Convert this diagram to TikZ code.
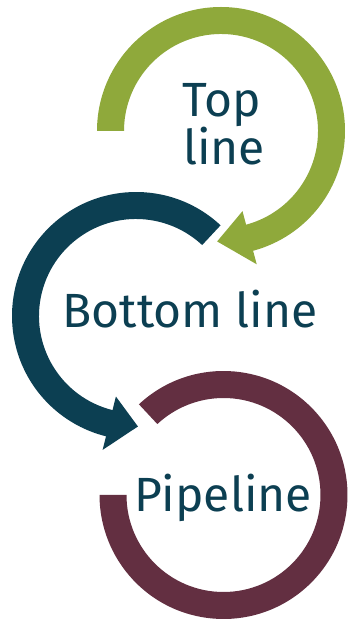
\documentclass[tikz,border=0pt]{standalone}
\usepackage{fontspec}
\setmainfont{Fira Sans}
\usetikzlibrary{arrows}
\definecolor{topgreen}{RGB}{143,169,59}
\definecolor{botblue}{RGB}{12,63,82}
\definecolor{pipemaroon}{RGB}{99,47,65}

\begin{document}
\begin{tikzpicture}[x=1pt,y=1pt,
  lbl/.style={text=botblue,inner sep=0pt,anchor=base,font=\fontsize{48}{48}\selectfont}]
\useasboundingbox[fill=white] (0,0) rectangle (349,619);
% top line arrow
\begin{scope}[shift={(221,488)}]
\fill[topgreen] (180:124) arc[start angle=180,end angle=-75,radius=124pt] -- (-75:138) -- (-92:110.5) -- (-75:83) -- (-75:97) arc[start angle=-75,end angle=180,radius=97pt] -- cycle;
\end{scope}
% bottom line arrow
\begin{scope}[shift={(136,303)}]
\fill[botblue] (47:124) arc[start angle=47,end angle=256,radius=124pt] -- (256:138) -- (271:110.5) -- (256:83) -- (256:97) arc[start angle=256,end angle=47,radius=97pt] -- cycle;
\end{scope}
% pipeline ring
\begin{scope}[shift={(223.5,124)}]
\fill[pipemaroon] (133:124) arc[start angle=133,end angle=-180,radius=124pt] -- (180:97) arc[start angle=-180,end angle=133,radius=97pt] -- cycle;
\end{scope}
\node[lbl] (top) at (222,502) {Top};
\node[lbl] (topline) at (224,454) {line};
\node[lbl] (bottom) at (190,291) {Bottom line};
\node[lbl] (pipe) at (223,107) {Pipeline};
\end{tikzpicture}
\end{document}
